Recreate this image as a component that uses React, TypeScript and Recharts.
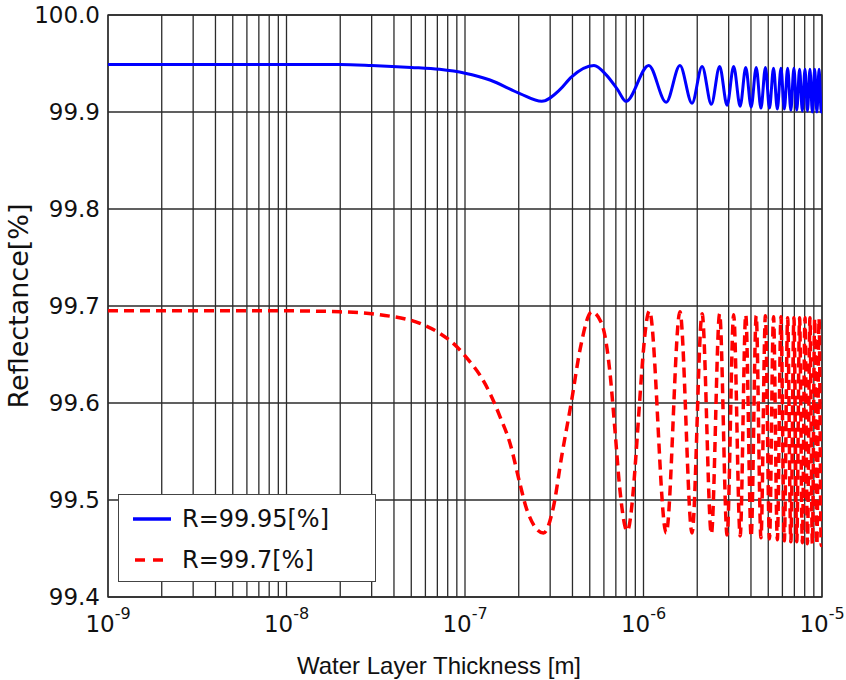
import { CartesianGrid, Label, Legend, Line, LineChart, ReferenceArea, XAxis, YAxis } from 'recharts';

// thickness in metres, reflectance in %
const blueThickness = [
  1e-9, 1e-8, 2e-8, 3e-8, 5e-8, 7.2e-8, 1e-7, 1.38e-7, 2.03e-7, 2.69e-7, 3.4e-7, 3.94e-7,
  5.28e-7, 6.2e-7, 7.16e-7, 7.98e-7,
  1.07e-6, 1.34e-6, 1.6e-6, 1.87e-6, 2.13e-6, 2.4e-6, 2.67e-6, 2.94e-6, 3.2e-6, 3.48e-6,
  3.74e-6, 4.01e-6, 4.28e-6, 4.55e-6, 4.82e-6, 5.08e-6, 5.35e-6, 5.62e-6, 5.89e-6, 6.15e-6,
  6.42e-6, 6.69e-6, 6.96e-6, 7.22e-6, 7.49e-6, 7.76e-6, 8.03e-6, 8.29e-6, 8.56e-6, 8.83e-6,
  9.1e-6, 9.36e-6, 9.63e-6, 9.9e-6, 1e-5,
];
const blueReflectance = [
  99.949, 99.949, 99.949, 99.948, 99.946, 99.944, 99.94, 99.933, 99.919, 99.911, 99.923, 99.936,
  99.948, 99.938, 99.923, 99.911,
  99.948, 99.91, 99.948, 99.909, 99.947, 99.908, 99.947, 99.907, 99.947, 99.906,
  99.946, 99.905, 99.946, 99.904, 99.946, 99.904, 99.945, 99.903, 99.945, 99.903,
  99.945, 99.902, 99.945, 99.902, 99.944, 99.901, 99.944, 99.901, 99.944, 99.9,
  99.944, 99.9, 99.944, 99.9, 99.9,
];

const redThickness = [
  1e-9, 1e-8, 2e-8, 3.34e-8, 5.6e-8, 7.2e-8, 9e-8, 1.05e-7, 1.21e-7, 1.38e-7, 1.57e-7, 1.79e-7,
  2.03e-7, 2.22e-7, 2.75e-7, 3.13e-7, 3.48e-7, 3.96e-7, 4.41e-7, 5.13e-7, 5.83e-7, 6.49e-7,
  6.92e-7, 7.38e-7, 8.1e-7,
  1.08e-6, 1.34e-6, 1.6e-6, 1.87e-6, 2.13e-6, 2.4e-6, 2.67e-6, 2.94e-6, 3.2e-6, 3.48e-6,
  3.74e-6, 4.01e-6, 4.28e-6, 4.55e-6, 4.82e-6, 5.08e-6, 5.35e-6, 5.62e-6, 5.89e-6, 6.15e-6,
  6.42e-6, 6.69e-6, 6.96e-6, 7.22e-6, 7.49e-6, 7.76e-6, 8.03e-6, 8.29e-6, 8.56e-6, 8.83e-6,
  9.1e-6, 9.36e-6, 9.63e-6, 9.9e-6, 1e-5,
];
const redReflectance = [
  99.695, 99.695, 99.694, 99.691, 99.682, 99.672, 99.658, 99.644, 99.629, 99.61, 99.586, 99.558,
  99.517, 99.49, 99.466, 99.493, 99.545, 99.603, 99.655, 99.694, 99.682, 99.631,
  99.572, 99.51, 99.468,
  99.695, 99.466, 99.694, 99.466, 99.692, 99.465, 99.692, 99.464, 99.691, 99.463,
  99.691, 99.462, 99.69, 99.461, 99.69, 99.46, 99.689, 99.459, 99.689, 99.458,
  99.688, 99.457, 99.688, 99.457, 99.688, 99.456, 99.688, 99.455, 99.688, 99.455,
  99.687, 99.454, 99.687, 99.453, 99.454,
];

const xTicks = [
  1e-9, 2e-9, 3e-9, 4e-9, 5e-9, 6e-9, 7e-9, 8e-9, 9e-9,
  1e-8, 2e-8, 3e-8, 4e-8, 5e-8, 6e-8, 7e-8, 8e-8, 9e-8,
  1e-7, 2e-7, 3e-7, 4e-7, 5e-7, 6e-7, 7e-7, 8e-7, 9e-7,
  1e-6, 2e-6, 3e-6, 4e-6, 5e-6, 6e-6, 7e-6, 8e-6, 9e-6,
  1e-5,
];
const yTicks = [99.4, 99.5, 99.6, 99.7, 99.8, 99.9, 100.0];

const seriesNames = ['R=99.95[%]', 'R=99.7[%]'];

const blueData = blueThickness.map((x, i) => ({ x, r: blueReflectance[i] }));
const redData = redThickness.map((x, i) => ({ x, r: redReflectance[i] }));

const TICK_FONT = '"DejaVu Sans", sans-serif';

const DecadeTick = ({ x, y, payload }: any) => {
  const v = payload.value as number;
  const exp = Math.round(Math.log10(v));
  if (Math.abs(Math.log10(v) - exp) > 1e-6) return null;
  return (
    <text x={x} y={y + 35} textAnchor="middle" fontFamily={TICK_FONT} fontSize={23} fill="#111">
      <tspan>10</tspan>
      <tspan dy={-13} fontSize={16}>
        {exp}
      </tspan>
    </text>
  );
};

const LegendBox = () => (
  <div
    style={{
      width: 258,
      height: 88,
      background: '#fff',
      border: '1.5px solid #444',
      boxSizing: 'border-box',
      fontFamily: TICK_FONT,
      fontSize: 24,
      color: '#111',
    }}
  >
    <svg width={258} height={88} style={{ display: 'block' }}>
      <line x1={14} x2={52} y1={24} y2={24} stroke="#0000ff" strokeWidth={3.5} />
      <text x={63} y={32} fontFamily={TICK_FONT} fontSize={24} fill="#111">
        {seriesNames[0]}
      </text>
      <line x1={16} x2={48} y1={65} y2={65} stroke="#ff0000" strokeWidth={3.5} strokeDasharray="10 8" />
      <text x={63} y={73} fontFamily={TICK_FONT} fontSize={24} fill="#111">
        {seriesNames[1]}
      </text>
    </svg>
  </div>
);

export default function App() {
  return (
    <div style={{ position: 'absolute', left: 0, top: 0, width: 846, height: 680, background: '#fff' }}>
      <LineChart width={846} height={680} margin={{ top: 15, right: 24, left: 0, bottom: 0 }}>
        <CartesianGrid stroke="#2b2b2b" strokeWidth={1.3} verticalPoints={undefined} />
        <XAxis
          dataKey="x"
          type="number"
          scale="log"
          domain={[1e-9, 1e-5]}
          ticks={xTicks}
          allowDataOverflow
          interval={0}
          height={83}
          tickSize={0}
          tickMargin={0}
          axisLine={false}
          tick={<DecadeTick />}
        >
          <Label
            content={({ viewBox }: any) => (
              <text
                x={viewBox.x + viewBox.width / 2 - 26}
                y={viewBox.y + 77}
                textAnchor="middle"
                fontFamily='"Liberation Sans", Arial, sans-serif'
                fontSize={24}
                fill="#111"
              >
                Water Layer Thickness [m]
              </text>
            )}
          />
        </XAxis>
        <YAxis
          type="number"
          domain={[99.4, 100.0]}
          ticks={yTicks}
          allowDataOverflow
          interval={0}
          width={108}
          tickSize={0}
          tickMargin={8}
          axisLine={false}
          tickFormatter={(v: number) => v.toFixed(1)}
          tick={{ fontFamily: TICK_FONT, fontSize: 23, fill: '#111' }}
        >
          <Label
            content={({ viewBox }: any) => (
              <text
                x={28}
                y={viewBox.y + viewBox.height / 2}
                transform={`rotate(-90, 28, ${viewBox.y + viewBox.height / 2})`}
                textAnchor="middle"
                fontFamily={TICK_FONT}
                fontSize={27}
                fill="#111"
              >
                Reflectance[%]
              </text>
            )}
          />
        </YAxis>
        <ReferenceArea x1={1e-9} x2={1e-5} y1={99.4} y2={100.0} fill="none" stroke="#2b2b2b" strokeWidth={1.3} />
        <Line
          data={blueData}
          dataKey="r"
          type="monotone"
          stroke="#0000ff"
          strokeWidth={3}
          dot={false}
          activeDot={false}
          isAnimationActive={false}
        />
        <Line
          data={redData}
          dataKey="r"
          type="monotone"
          stroke="#ff0000"
          strokeWidth={3.5}
          strokeDasharray="10 6"
          dot={false}
          activeDot={false}
          isAnimationActive={false}
        />
        <Legend
          layout="horizontal"
          verticalAlign="middle"
          align="center"
          content={<LegendBox />}
          wrapperStyle={{ left: 118, top: 494, width: 258, height: 88 }}
        />
      </LineChart>
    </div>
  );
}
